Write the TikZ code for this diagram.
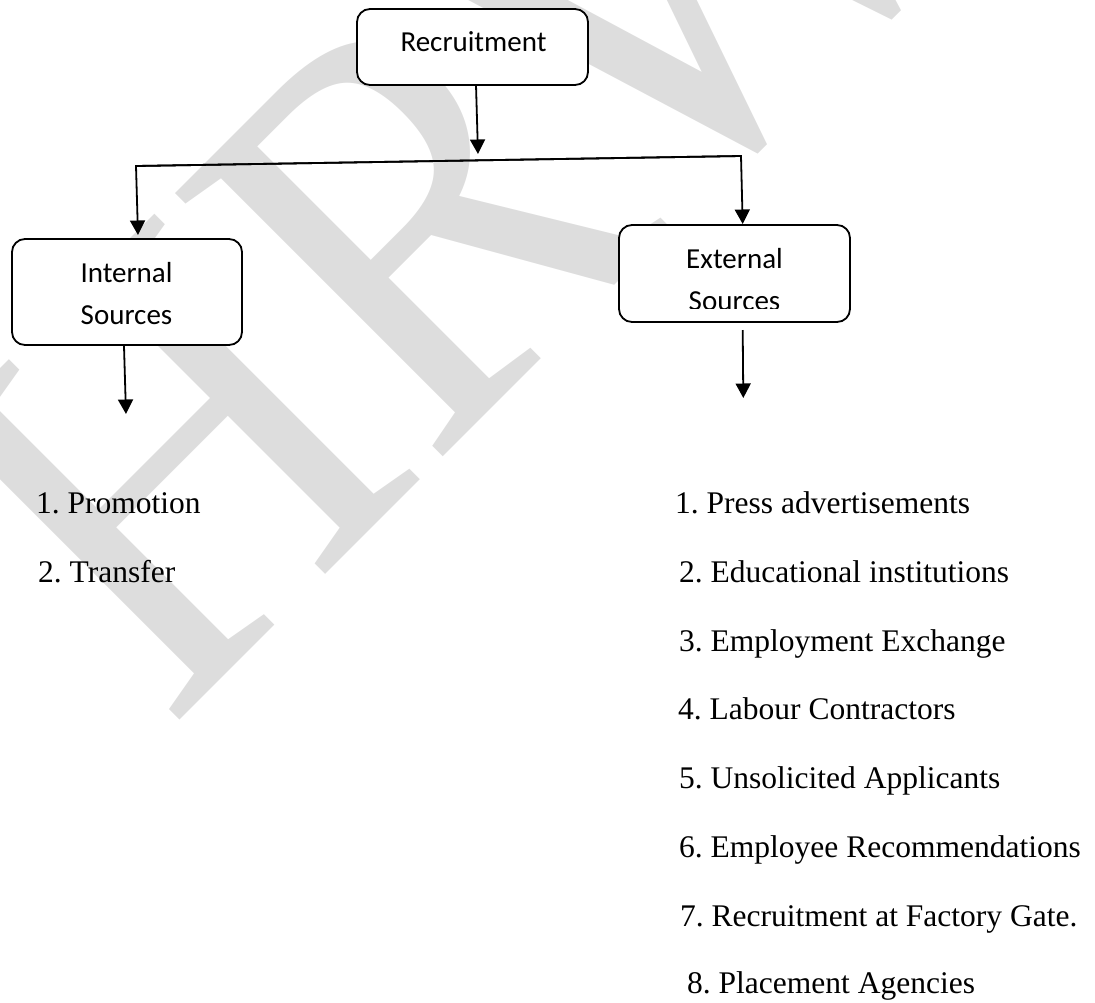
\documentclass[tikz,border=0pt]{standalone}
\usepackage{fontspec}
\setmainfont{Liberation Serif}
\newfontfamily\boxfont{Carlito}
\usetikzlibrary{arrows.meta}
\definecolor{wmgray}{RGB}{221,221,221}
\frenchspacing
\tikzset{
  box/.style={draw, fill=white, line width=1.8pt, rounded corners=13pt, inner sep=0pt},
  boxtext/.style={anchor=base, inner sep=0pt, font=\boxfont\fontsize{29}{35}\selectfont},
  arr/.style={line width=1.8pt, -{Triangle[length=14.5pt,width=15pt]}},
  item/.style={anchor=base west, inner sep=0pt, font=\fontsize{31.5}{36}\selectfont},
  wm/.style={text=wmgray, inner sep=0pt, font=\fontsize{512}{512}\selectfont}
}
\begin{document}
\begin{tikzpicture}[x=1pt,y=-1pt]
\useasboundingbox (0,0) rectangle (1095,1002);

% background watermark
\node[wm, rotate=45, yscale=1.12, anchor=base west] (mark) at (169,731) {HRW};

% boxes
\node[box, minimum width=231pt, minimum height=76pt] (rec) at (472.5,47) {};
\node[boxtext] (rec-t) at (473.5,51.7) {Recruitment};

\node[box, minimum width=230pt, minimum height=106pt] (int) at (127,292) {};
\node[boxtext] (int-t1) at (126.5,282.7) {Internal};
\node[boxtext] (int-t2) at (126.5,324) {Sources};

\node[box, minimum width=231pt, minimum height=97pt] (ext) at (734.5,273.5) {};
\node[boxtext] (ext-t1) at (734.5,268.3) {External};
\begin{scope}
  \clip (ext.north west) rectangle (850,308.3);
  \node[boxtext] (ext-t2) at (734.5,310) {Sources};
\end{scope}

% connector points
\coordinate (rec-out) at (476,85);
\coordinate (split) at (478,154);
\coordinate (bar-l) at (136,166);
\coordinate (bar-r) at (741,156);
\coordinate (int-in) at (138,235);
\coordinate (ext-in) at (742.7,224);
\coordinate (int-out) at (124,346);
\coordinate (int-end) at (126,414);
\coordinate (ext-out) at (742.7,330);
\coordinate (ext-end) at (743.3,398);

\draw[arr] (rec-out) -- (split);
\draw[arr] (bar-r) -- (bar-l) -- (int-in);
\draw[arr] (bar-l) -- (bar-r) -- (ext-in);
\draw[arr] (int-out) -- (int-end);
\draw[arr] (ext-out) -- (ext-end);

% lists
\node[item] (p1) at (36,513) {1. Promotion};
\node[item] (p2) at (38,582) {2. Transfer};

\node[item] (e1) at (675,513) {1. Press advertisements};
\node[item] (e2) at (679,582) {2. Educational institutions};
\node[item] (e3) at (679,651) {3. Employment Exchange};
\node[item] (e4) at (678,719) {4. Labour Contractors};
\node[item] (e5) at (679,788) {5. Unsolicited Applicants};
\node[item] (e6) at (679,857) {6. Employee Recommendations};
\node[item] (e7) at (680,926) {7. Recruitment at Factory Gate.};
\node[item] (e8) at (687,993) {8. Placement Agencies};
\end{tikzpicture}
\end{document}
